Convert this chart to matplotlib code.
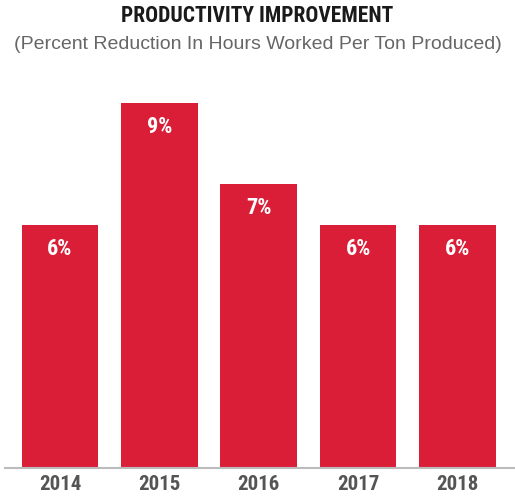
import matplotlib
matplotlib.use("Agg")
import matplotlib.pyplot as plt

years = ["2014", "2015", "2016", "2017", "2018"]
values = [6, 9, 7, 6, 6]
labels = ["6%", "9%", "7%", "6%", "6%"]
title = "PRODUCTIVITY IMPROVEMENT"
subtitle = "(Percent Reduction In Hours Worked Per Ton Produced)"

W, H = 515, 499
fig = plt.figure(figsize=(W / 100, H / 100), dpi=100)
fig.patch.set_facecolor("white")

cond = ["Roboto Condensed", "DejaVu Sans"]
red = "#DA1E37"

# axes: left 5px, right 515px, bottom 468px, top 103px (from top)
ax = fig.add_axes([5 / W, 1 - 468 / H, 510 / W, 365 / H])
x = list(range(len(years)))
ax.bar(x, values, width=0.77, color=red, zorder=2)
ax.set_xlim(-0.553, 4.578)
ax.set_ylim(0, 9)
for s in ["top", "right", "left"]:
    ax.spines[s].set_visible(False)
ax.spines["bottom"].set_color("#BBBBBB")
ax.spines["bottom"].set_linewidth(1.5)
ax.set_yticks([])
ax.set_xticks(x)
ax.set_xticklabels(years, family=cond, fontweight="bold", fontstretch="condensed",
                   fontsize=15, color="#555555")
ax.tick_params(axis="x", length=0, pad=5)

for xi, v, lab in zip(x, values, labels):
    ax.annotate(lab, (xi, v), xytext=(0, -24), textcoords="offset pixels",
                ha="center", va="center", color="white", family=cond,
                fontweight="bold", fontstretch="condensed", fontsize=16)

fig.text(0.5, 1 - 21.5 / H, title, ha="center", va="baseline", family=cond,
         fontweight="bold", fontstretch="condensed", fontsize=15.5, color="#1a1a1a")
fig.text(0.5, 1 - 49 / H, subtitle, ha="center", va="baseline",
         family=["Liberation Sans", "DejaVu Sans"], fontsize=14, color="#666666")

fig.savefig("out.png", dpi=100, facecolor="white")
